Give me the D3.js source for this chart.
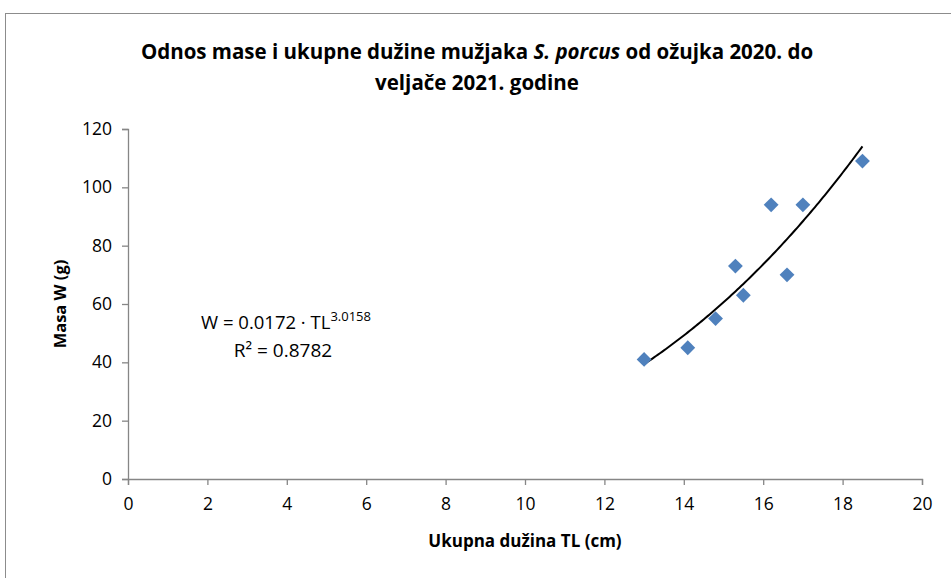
<!DOCTYPE html>
<html>
<head>
<meta charset="utf-8">
<script src="https://cdn.jsdelivr.net/npm/d3@7"></script>
<style>
  body { margin: 0; background: #fff; }
  text { font-family: "Open Sans", "Liberation Sans", sans-serif; }
</style>
</head>
<body>
<div id="chart"></div>
<script>
// data
var lengths = [13.0, 14.1, 14.8, 15.3, 15.5, 16.2, 16.6, 17.0, 18.5]
var masses  = [41, 45, 55, 73, 63, 94, 70, 94, 109]
var xTicks = [0, 2, 4, 6, 8, 10, 12, 14, 16, 18, 20]
var yTicks = [0, 20, 40, 60, 80, 100, 120]
// power trendline shown on the chart
var fitA = 0.0172, fitB = 3.0158
var fitRange = [13, 18.5]

var width = 951, height = 578
var margin = {top: 129, right: 29, bottom: 99, left: 128}

var svg = d3.select("#chart").append("svg")
  .attr("width", width)
  .attr("height", height)

// outer chart frame
svg.append("rect")
  .attr("x", 5.5).attr("y", 13.5)
  .attr("width", 1000).attr("height", 700)
  .attr("fill", "none")
  .attr("stroke", "#8c8c8c")
  .attr("stroke-width", 1)

var x = d3.scaleLinear().domain([0, 20]).range([margin.left, width - margin.right])
var y = d3.scaleLinear().domain([0, 120]).range([height - margin.bottom, margin.top])

var xAxis = svg.append("g")
  .attr("transform", "translate(0," + y(0) + ")")
  .call(d3.axisBottom(x).tickValues(xTicks).tickSize(6).tickPadding(9).tickFormat(d3.format("d")))
var yAxis = svg.append("g")
  .attr("transform", "translate(" + x(0) + ",0)")
  .call(d3.axisLeft(y).tickValues(yTicks).tickSize(6).tickPadding(10).tickFormat(d3.format("d")))

;[xAxis, yAxis].forEach(function(g){
  g.select(".domain").attr("stroke", "#868686").attr("stroke-width", 1.3)
  g.selectAll(".tick line").attr("stroke", "#868686").attr("stroke-width", 1.3)
  g.selectAll(".tick text").attr("fill", "#000").style("font-size", "17.5px")
    .style("font-family", "'Open Sans', sans-serif")
})
xAxis.selectAll(".tick text").attr("dy", "0.9em")

// trendline
var fitPts = d3.range(fitRange[0], fitRange[1] + 0.001, 0.05).map(function(t){
  return [t, fitA * Math.pow(t, fitB)]
})
svg.append("path")
  .datum(fitPts)
  .attr("fill", "none")
  .attr("stroke", "#000")
  .attr("stroke-width", 2)
  .attr("d", d3.line()
    .x(function(d){ return x(d[0]) })
    .y(function(d){ return y(d[1]) }))

// diamond markers
var diamond = d3.symbol().type(d3.symbolSquare).size(110)
svg.selectAll("mySquares")
  .data(lengths)
  .enter()
  .append("path")
    .attr("d", diamond)
    .attr("transform", function(d, i){ return "translate(" + x(d) + "," + y(masses[i]) + ") rotate(45)" })
    .attr("fill", "#4f81bd")

// title
var title = svg.append("text")
  .attr("text-anchor", "middle")
  .style("font-size", "20.5px")
  .style("font-weight", "bold")
title.append("tspan").attr("x", 477).attr("y", 59)
  .text("Odnos mase i ukupne dužine mužjaka ")
title.append("tspan").style("font-style", "italic").text("S. porcus")
title.append("tspan").text(" od ožujka 2020. do")
title.append("tspan").attr("x", 477).attr("y", 90).text("veljače 2021. godine")

// axis titles
svg.append("text")
  .attr("x", (x(0) + x(20)) / 2).attr("y", 547)
  .attr("text-anchor", "middle")
  .style("font-size", "17px").style("font-weight", "bold")
  .text("Ukupna dužina TL (cm)")
svg.append("text")
  .attr("transform", "translate(66," + y(60) + ") rotate(-90)")
  .attr("text-anchor", "middle")
  .style("font-size", "16.5px").style("font-weight", "bold")
  .text("Masa W (g)")

// equation
var eq = svg.append("text")
  .attr("x", 286).attr("y", 329)
  .attr("text-anchor", "middle")
  .style("font-size", "18.5px")
eq.append("tspan").text("W = 0.0172 · TL")
eq.append("tspan").attr("dy", -8).style("font-size", "13px").text("3.0158")
var r2 = svg.append("text")
  .attr("x", 283).attr("y", 357)
  .attr("text-anchor", "middle")
  .style("font-size", "19px")
  .text("R² = 0.8782")
</script>
</body>
</html>
